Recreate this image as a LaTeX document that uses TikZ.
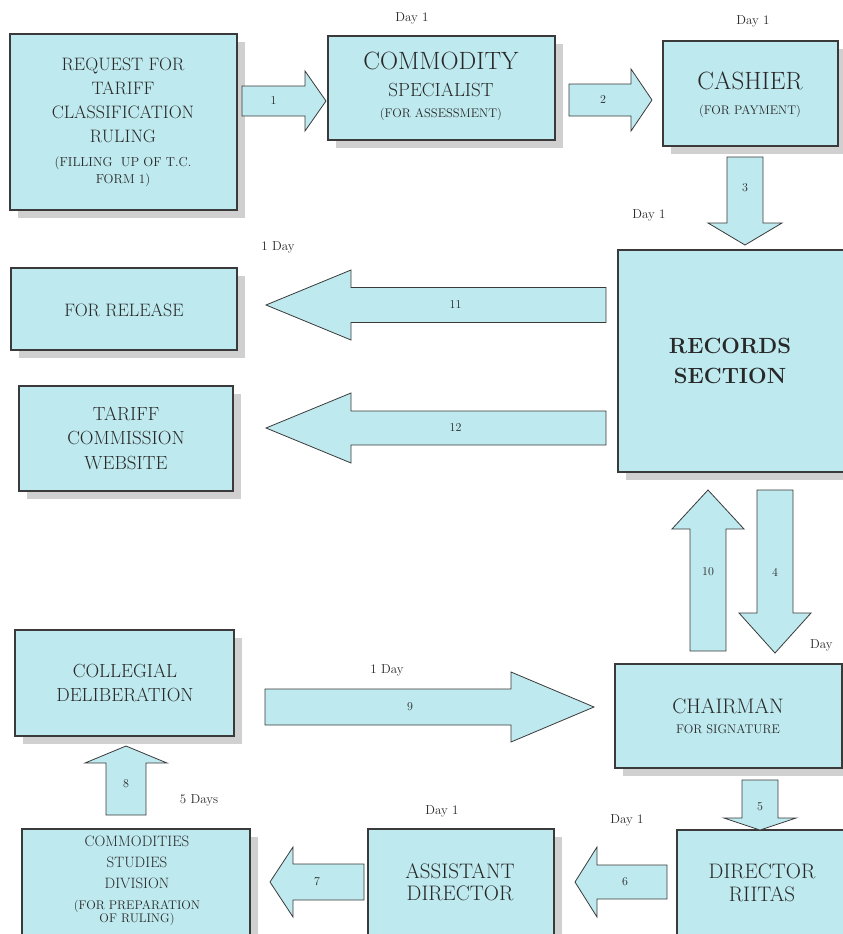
\documentclass[tikz,border=0pt]{standalone}
\usetikzlibrary{calc,shadows}

\definecolor{boxfill}{RGB}{190,233,238}
\definecolor{inkgrey}{RGB}{58,58,58}
\definecolor{textgrey}{RGB}{40,40,40}
\definecolor{shadowgrey}{RGB}{208,208,208}

\tikzset{
  flowbox/.style={draw=inkgrey, line width=1.1pt, fill=boxfill, inner sep=0pt,
    drop shadow={shadow xshift=8pt, shadow yshift=-8pt, fill=shadowgrey, opacity=1}},
  blockarrow/.style={draw=inkgrey, line width=0.8pt, fill=boxfill, line join=miter},
  daylabel/.style={text=textgrey, font=\fontsize{13}{15}\selectfont, inner sep=0pt},
  numlabel/.style={text=textgrey, font=\fontsize{12}{14}\selectfont, inner sep=0pt},
  boxtext/.style={text=textgrey, align=center, inner sep=0pt},
}

% box: name, left, top, right, bottom (picture units, y grows downwards)
\newcommand\flowrect[5]{%
  \node[flowbox, minimum width={(#4-(#2))*1pt}, minimum height={(#5-(#3))*1pt}]
    (#1) at ({(#2+#4)/2},{(#3+#5)/2}) {};}

% block arrow: name, tail, tip, shaft half width, head half width, head length, label position, label
\newcommand\blockarr[8]{%
  \coordinate (#1-tail) at (#2);
  \coordinate (#1-tip) at (#3);
  \coordinate (#1-base) at ($(#1-tip)!#6pt!(#1-tail)$);
  \draw[blockarrow] ($(#1-tail)!#4pt!90:(#1-tip)$) -- ($(#1-base)!#4pt!90:(#1-tip)$)
    -- ($(#1-base)!#5pt!90:(#1-tip)$) -- (#1-tip) -- ($(#1-base)!#5pt!-90:(#1-tip)$)
    -- ($(#1-base)!#4pt!-90:(#1-tip)$) -- ($(#1-tail)!#4pt!-90:(#1-tip)$) -- cycle;
  \node[numlabel] (#1-label) at ($(#1-tail)!#7!(#1-base)$) {#8};}

\begin{document}
\begin{tikzpicture}[x=1pt, y=-1pt]
\useasboundingbox (0,0) rectangle (843,934);
\clip (0,0) rectangle (843,934);

% ---- boxes ----
\flowrect{request}{10}{34}{237}{210}
\flowrect{specialist}{328}{36}{555}{140}
\flowrect{cashier}{663}{41}{838}{146}
\flowrect{release}{11}{268}{237}{350}
\flowrect{website}{19}{386}{233}{491}
\flowrect{records}{618}{250}{856}{472}
\flowrect{collegial}{15}{630}{234}{736}
\flowrect{chairman}{615}{664}{842}{768}
\flowrect{studies}{22}{829}{250}{950}
\flowrect{assistant}{368}{829}{554}{950}
\flowrect{director}{677}{830}{856}{950}

% ---- box texts ----
\node[boxtext, font=\fontsize{18}{24}\selectfont] (request-text) at (123,122)
  {REQUEST FOR\\TARIFF\\CLASSIFICATION\\RULING\\
   {\fontsize{13}{15}\selectfont (FILLING\ \ UP OF T.C.}\\[-7pt]
   {\fontsize{13}{15}\selectfont FORM 1)}};
\node[boxtext, font=\fontsize{25}{27}\selectfont] (specialist-text) at (441,86)
  {COMMODITY\\{\fontsize{19}{21}\selectfont SPECIALIST}\\[-6pt]
   {\fontsize{12.5}{14}\selectfont (FOR ASSESSMENT)}};
\node[boxtext, font=\fontsize{25}{25}\selectfont] (cashier-text) at (750,95)
  {CASHIER\\{\fontsize{12.5}{14}\selectfont (FOR PAYMENT)}};
\node[boxtext, font=\fontsize{18}{24}\selectfont] (release-text) at (124,310) {FOR RELEASE};
\node[boxtext, font=\fontsize{19}{24.5}\selectfont] (website-text) at (126,438)
  {TARIFF\\COMMISSION\\WEBSITE};
\node[boxtext, font=\bfseries\fontsize{22}{30}\selectfont] (records-text) at (730,361)
  {RECORDS\\SECTION};
\node[boxtext, font=\fontsize{19}{24}\selectfont] (collegial-text) at (125,683)
  {COLLEGIAL\\DELIBERATION};
\node[boxtext, font=\fontsize{21}{20}\selectfont] (chairman-text) at (728,716)
  {CHAIRMAN\\{\fontsize{12.5}{14}\selectfont FOR SIGNATURE}};
\node[boxtext, font=\fontsize{15}{21}\selectfont] (studies-text) at (137,881)
  {COMMODITIES\\STUDIES\\DIVISION\\
   {\fontsize{12.5}{14}\selectfont (FOR PREPARATION}\\[-8pt]
   {\fontsize{12.5}{14}\selectfont OF RULING)}};
\node[boxtext, font=\fontsize{21}{22}\selectfont] (assistant-text) at (460,882)
  {ASSISTANT\\DIRECTOR};
\node[boxtext, font=\fontsize{21}{23}\selectfont] (director-text) at (762,883)
  {DIRECTOR\\RIITAS};

% ---- block arrows ----
\blockarr{a1}{242,101}{326,101}{15}{30}{21}{0.5}{1}
\blockarr{a2}{569,100}{652,100}{16}{31}{21}{0.55}{2}
\blockarr{a3}{745,157}{745,245}{18}{37}{22}{0.47}{3}
\blockarr{a4}{775,490}{775,653}{18}{36}{40}{0.67}{4}
\blockarr{a5}{760,780}{760,830}{18}{36}{12}{0.7}{5}
\blockarr{a6}{667,882}{575,882}{17}{35}{22}{0.6}{6}
\blockarr{a7}{364,882}{270,882}{18}{35}{23}{0.66}{7}
\blockarr{a8}{126,815}{126,746}{20}{41}{17}{0.6}{8}
\blockarr{a9}{265,707}{594,707}{18}{35}{83}{0.59}{9}
\blockarr{a10}{708,651}{708,490}{18}{36}{39}{0.65}{10}
\blockarr{a11}{606,305}{266,305}{17.5}{35}{85}{0.59}{11}
\blockarr{a12}{606,428}{266,428}{17}{35}{85}{0.59}{12}

% ---- time labels ----
\node[daylabel] (d-specialist) at (412,18) {Day 1};
\node[daylabel] (d-cashier) at (753,21) {Day 1};
\node[daylabel] (d-records) at (649,215) {Day 1};
\node[daylabel] (d-release) at (278,247) {1 Day};
\node[daylabel, anchor=west] (d-chairman) at (810,645) {Day};
\node[daylabel] (d-collegial) at (387,670) {1 Day};
\node[daylabel] (d-studies) at (199,800) {5 Days};
\node[daylabel] (d-assistant) at (442,811) {Day 1};
\node[daylabel] (d-director) at (627,820) {Day 1};
\end{tikzpicture}
\end{document}
